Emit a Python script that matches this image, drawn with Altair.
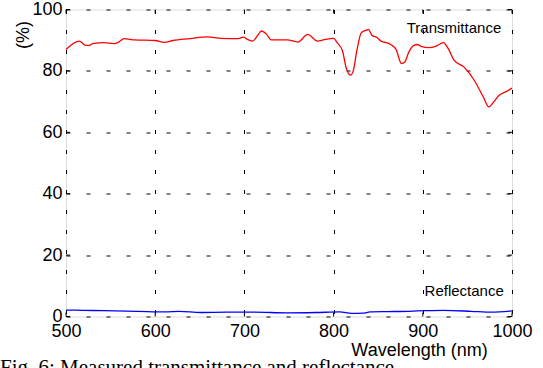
import altair as alt
import pandas as pd

# Transmittance (red)
t_wl = [500, 515, 522, 526, 530, 542, 554, 559, 565, 577, 600, 610, 620, 639, 658, 674,
        693, 699, 703, 709, 715, 719, 725, 730, 748, 760, 771, 782, 791, 800, 804, 810,
        814, 819, 822, 826, 831, 837, 839, 843, 849, 853, 859, 864, 870, 876, 880, 884,
        890, 894, 898, 907, 915, 923, 929, 935, 946, 958, 968, 974, 979, 985, 995, 1000]
t_val = [87.0, 89.7, 88.3, 88.3, 88.9, 89.2, 88.9, 89.4, 90.5, 90.1, 89.9, 89.3, 89.9, 90.5, 91.1, 90.6,
         90.5, 91.0, 90.3, 89.7, 91.6, 93.0, 91.9, 90.1, 90.1, 89.4, 91.9, 89.7, 90.3, 90.6, 89.2, 86.5,
         81.1, 78.6, 80.0, 86.5, 92.4, 93.3, 93.5, 91.6, 90.8, 89.7, 89.2, 88.6, 87.0, 82.4, 83.0, 85.9,
         88.3, 88.6, 88.0, 87.6, 88.1, 89.2, 87.0, 83.5, 81.3, 76.8, 71.4, 68.3, 69.7, 71.9, 73.5, 74.4]

# Reflectance (blue)
r_wl = [500, 520, 542, 580, 611, 627, 651, 680, 711, 748, 780, 807, 820, 833, 841, 860,
        884, 904, 923, 954, 977, 1000]
r_val = [2.1, 2.0, 1.9, 1.7, 1.5, 1.7, 1.3, 1.4, 1.4, 1.2, 1.3, 1.5, 1.0, 1.1, 1.5, 1.6,
         1.7, 1.9, 2.0, 1.7, 1.4, 1.8]

x_ticks = [500, 600, 700, 800, 900, 1000]
y_ticks = [0, 20, 40, 60, 80, 100]

ann_labels = ["Transmittance", "Reflectance"]
ann_x = [882, 902]
ann_y = [92.2, 6.8]

caption = "Fig. 6: Measured transmittance and reflectance"

W, H = 446, 307
SANS = "Liberation Sans"
SERIF = "Liberation Serif"

trans = pd.DataFrame({"wl": t_wl, "val": t_val})
refl = pd.DataFrame({"wl": r_wl, "val": r_val})
ann = pd.DataFrame({"label": ann_labels, "wl": ann_x, "val": ann_y})
xt = pd.DataFrame({"wl": x_ticks})
yt = pd.DataFrame({"val": y_ticks})
cap = pd.DataFrame({"t": [caption]})

xscale = alt.Scale(domain=[500, 1000], nice=False, zero=False)
yscale = alt.Scale(domain=[0, 100], nice=False)

xaxis = alt.Axis(
    values=x_ticks, format="d", grid=True, gridDash=[4, 16], gridColor="black", gridOpacity=1,
    gridWidth=1, ticks=False, domain=False, labelFont=SANS, labelFontSize=18, labelColor="black",
    labelPadding=6, labelFlush=False, labelOverlap=False,
    title="Wavelength (nm)", titleFont=SANS, titleFontSize=18, titleFontWeight="normal",
    titleColor="black", titleX=353, titleY=39, titleAlign="center", titleBaseline="alphabetic",
)
yaxis = alt.Axis(
    values=y_ticks, format="d", grid=True, gridDash=[4, 16], gridColor="black", gridOpacity=1,
    gridWidth=1, ticks=False, domain=False, labelFont=SANS, labelFontSize=18, labelColor="black",
    labelPadding=4, labelFlush=False, labelOverlap=False,
    title="(%)", titleFont=SANS, titleFontSize=18, titleFontWeight="normal", titleColor="black",
    titleX=-43, titleY=25, titleAngle=270, titleAlign="center", titleBaseline="middle",
)

X = alt.X("wl:Q", scale=xscale, axis=xaxis)
Y = alt.Y("val:Q", scale=yscale, axis=yaxis)

t_line = alt.Chart(trans).mark_line(color="#ff0000", strokeWidth=1.3, interpolate="monotone").encode(
    x=X, y=Y)
r_line = alt.Chart(refl).mark_line(color="#0000ff", strokeWidth=1.3, interpolate="monotone").encode(
    x=X, y=Y)
labels = alt.Chart(ann).mark_text(
    align="left", baseline="alphabetic", font=SANS, fontSize=15, color="black"
).encode(x=X, y=Y, text="label:N")

tick_style = dict(color="black", strokeWidth=1)
bt = alt.Chart(xt).mark_rule(**tick_style).encode(x=X, y=alt.value(H), y2=alt.value(H - 4))
tt = alt.Chart(xt).mark_rule(**tick_style).encode(x=X, y=alt.value(0), y2=alt.value(4))
lt = alt.Chart(yt).mark_rule(**tick_style).encode(y=Y, x=alt.value(0), x2=alt.value(4))
rt = alt.Chart(yt).mark_rule(**tick_style).encode(y=Y, x=alt.value(W), x2=alt.value(W - 4))

cap_text = alt.Chart(cap).mark_text(
    align="left", baseline="alphabetic", font=SERIF, fontSize=21, color="black"
).encode(x=alt.value(-66), y=alt.value(364), text="t:N")

chart = alt.layer(t_line, r_line, labels, bt, tt, lt, rt, cap_text).properties(
    width=W, height=H,
    autosize=alt.AutoSizeParams(type="none"),
    padding={"left": 66, "top": 9.5, "right": 31, "bottom": 51.5},
).configure_view(stroke="black", strokeWidth=1.5).configure(background="white")

chart.save("out.html", embed_options={"renderer": "svg", "actions": False})
